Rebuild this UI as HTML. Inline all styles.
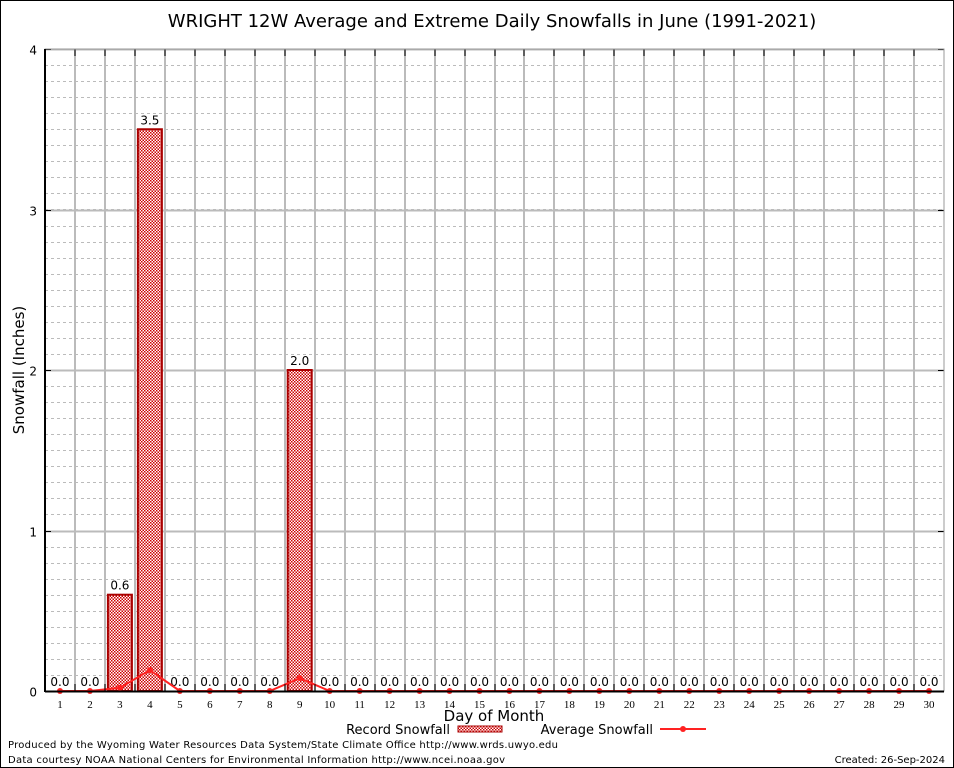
<!DOCTYPE html>
<html><head><meta charset="utf-8"><style>
body{margin:0;background:#fff}
svg{display:block;font-family:"DejaVu Sans","Liberation Sans",sans-serif}
</style></head><body>
<svg id="chart" width="954" height="768">
<defs>
<pattern id="hatch" width="3" height="3" patternUnits="userSpaceOnUse">
<rect width="3" height="3" fill="#fff"/><rect width="1.5" height="1.5" fill="#c00"/><rect x="1.5" y="1.5" width="1.5" height="1.5" fill="#c00"/>
</pattern>
</defs>
<rect x="0.5" y="0.5" width="953" height="767" fill="#fff" stroke="#000"/>
<text x="492" y="27" font-size="18" text-anchor="middle">WRIGHT 12W Average and Extreme Daily Snowfalls in June (1991-2021)</text>
<g id="grid"></g>
<g id="bars"></g>
<g id="line"></g>
<g id="axes"></g>
<text x="24" y="370" font-size="15" text-anchor="middle" transform="rotate(-90 24 370)">Snowfall (Inches)</text>
<text x="494" y="721" font-size="15" text-anchor="middle">Day of Month</text>
<g>
<text x="450" y="734" font-size="13" text-anchor="end">Record Snowfall</text>
<rect x="458" y="726" width="44" height="6" fill="url(#hatch)" stroke="#a00"/>
<text x="653" y="734" font-size="13" text-anchor="end">Average Snowfall</text>
<line x1="660" y1="729" x2="706" y2="729" stroke="#f22" stroke-width="2"/>
<circle cx="683" cy="729" r="3" fill="#f22"/>
</g>
<text x="8" y="748" font-size="10" textLength="550">Produced by the Wyoming Water Resources Data System/State Climate Office http://www.wrds.uwyo.edu</text>
<text x="8" y="763" font-size="10" textLength="497">Data courtesy NOAA National Centers for Environmental Information http://www.ncei.noaa.gov</text>
<text x="945" y="763" font-size="10" text-anchor="end">Created:  26-Sep-2024</text>
</svg>
<script>
const days=[1,2,3,4,5,6,7,8,9,10,11,12,13,14,15,16,17,18,19,20,21,22,23,24,25,26,27,28,29,30];
const recordSnow=[0,0,0.6,3.5,0,0,0,0,2.0,0,0,0,0,0,0,0,0,0,0,0,0,0,0,0,0,0,0,0,0,0];
const avgSnow=[0,0,0.02,0.13,0,0,0,0,0.08,0,0,0,0,0,0,0,0,0,0,0,0,0,0,0,0,0,0,0,0,0];
const yTicks=[0,1,2,3,4];
const NS="http://www.w3.org/2000/svg";
const L=45,R=944,T=49,B=691,ymax=4;
const dx=(R-L)/days.length;
const xs=d=>L+(d-0.5)*dx;
const ys=v=>B-(v/ymax)*(B-T);
function mk(tag,attrs,parent){const e=document.createElementNS(NS,tag);for(const k in attrs)e.setAttribute(k,attrs[k]);parent.appendChild(e);return e;}
const grid=document.getElementById('grid'),bars=document.getElementById('bars'),line=document.getElementById('line'),axes=document.getElementById('axes');
for(let v=0.1;v<ymax;v+=0.1){const y=Math.round(ys(v))+0.5;
const g=mk('line',{x1:L,x2:R,y1:y,y2:y,stroke:'#bbb','stroke-dasharray':'3,3','stroke-width':1},grid);

}
yTicks.forEach(v=>{const y=Math.round(ys(v))+0.5;
const g=mk('line',{x1:L,x2:R,y1:y,y2:y,stroke:'#bbb','stroke-width':2},grid);


const t=mk('text',{x:L-8,y:y+5,'font-size':12,'text-anchor':'end'},axes);t.textContent=v;


const tk=mk('line',{x1:L,x2:L+6,y1:y,y2:y,stroke:'#000'},axes);


const tk2=mk('line',{x1:R-6,x2:R,y1:y,y2:y,stroke:'#000'},axes);

});
for(let i=1;i<days.length;i++){const x=Math.round(L+i*dx);
const g=mk('line',{x1:x,x2:x,y1:T,y2:B,stroke:'#bbb','stroke-width':2},grid);


const tk=mk('line',{x1:x,x2:x,y1:T,y2:T+7,stroke:'#000'},axes);


const tk2=mk('line',{x1:x,x2:x,y1:B-7,y2:B,stroke:'#000'},axes);

}
days.forEach((d,i)=>{const x=xs(d),v=recordSnow[i];
if(v>0){const r=mk('rect',{x:x-12,y:ys(v),width:24,height:B-ys(v),fill:'url(#hatch)',stroke:'#a00','stroke-width':2},bars);

}
const lb=mk('text',{x:x,y:ys(v)-5,'font-size':12,'text-anchor':'middle'},bars);lb.textContent=v.toFixed(1);


const xl=mk('text',{x:x,y:B+17,'font-size':11,'text-anchor':'middle','font-family':'Liberation Serif,serif'},axes);xl.textContent=d;

});
const pl=mk('polyline',{points:days.map((d,i)=>xs(d)+','+ys(avgSnow[i])).join(' '),fill:'none',stroke:'#f22','stroke-width':2},line);


days.forEach((d,i)=>{const c=mk('circle',{cx:xs(d),cy:ys(avgSnow[i]),r:3,fill:'#f22'},line);

});
const fr=mk('rect',{x:L,y:T,width:R-L,height:B-T,fill:'none',stroke:'#999'},axes);


const la=mk('line',{x1:L,x2:L,y1:T,y2:B+1,stroke:'#000','stroke-width':2},axes);


const ba=mk('line',{x1:L,x2:R,y1:B+0.5,y2:B+0.5,stroke:'#000','stroke-width':2},axes);


</script>
</body></html>
